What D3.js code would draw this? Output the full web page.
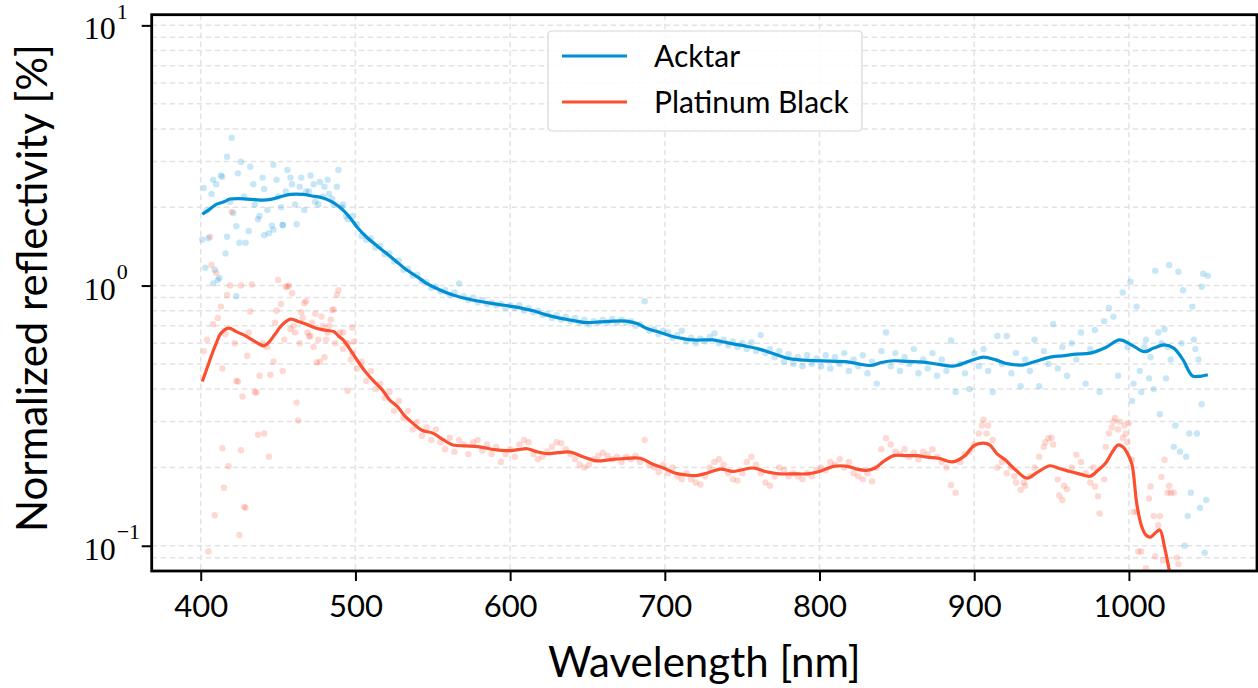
<!DOCTYPE html>
<html><head><meta charset="utf-8">
<script src="https://cdn.jsdelivr.net/npm/d3@7"></script>
<style>body{margin:0;background:#fff}svg{display:block}</style>
</head><body>
<svg id="chart" width="1258" height="688"></svg>
<script>
// ---------- data ----------
const seriesNames = ["Acktar", "Platinum Black"];
const seriesColors = ["#008fd5", "#fc4f30"];
const xTicks = [400, 500, 600, 700, 800, 900, 1000];
const yTicks = [0.1, 1, 10];
const yTickExp = ["−1", "0", "1"];

// smoothed curves (wavelength nm, reflectivity %)
const acktarLineWl = [401,405,410,415,419,425,430,435,440,446,452,458,466,472,479,484,488,492,496,501,507,514,520,527,533,540,546,555,563,572,580,590,602,615,624,632,640,649,658,667,675,682,688,697,705,712,718,725,731,738,744,753,761,770,779,787,796,807,817,825,833,840,848,857,867,877,886,896,906,914,922,932,940,949,957,966,975,985,994,1002,1010,1016,1023,1029,1035,1041,1046,1051];
const acktarLineVal = [1.88,1.95,2.05,2.10,2.15,2.16,2.15,2.14,2.13,2.15,2.20,2.24,2.24,2.21,2.17,2.11,2.04,1.95,1.84,1.68,1.54,1.42,1.33,1.23,1.15,1.08,1.02,0.96,0.92,0.89,0.87,0.85,0.83,0.80,0.77,0.75,0.735,0.72,0.725,0.73,0.73,0.715,0.686,0.66,0.637,0.625,0.618,0.618,0.618,0.607,0.597,0.584,0.57,0.548,0.526,0.518,0.515,0.512,0.51,0.50,0.493,0.506,0.514,0.511,0.508,0.498,0.49,0.51,0.531,0.518,0.50,0.496,0.512,0.531,0.537,0.545,0.55,0.578,0.618,0.59,0.557,0.575,0.592,0.575,0.518,0.45,0.448,0.454];
const platinumLineWl = [401,404,407,410,413,418,423,428,433,438,441,444,448,452,458,463,467,472,477,482,486,489,492,496,501,506,512,517,522,527,532,537,543,550,557,563,571,580,590,598,605,611,617,624,631,639,647,656,664,672,684,692,699,707,714,720,727,736,744,750,757,765,774,783,792,800,809,818,824,830,836,841,848,856,863,870,877,886,894,900,906,910,915,920,927,934,941,949,955,962,969,975,980,985,989,993,996,999,1002,1005,1008,1011,1014,1017,1020,1023,1026,1029,1032];
const platinumLineVal = [0.428,0.48,0.54,0.60,0.655,0.686,0.665,0.645,0.62,0.595,0.587,0.605,0.65,0.70,0.743,0.728,0.715,0.695,0.68,0.672,0.665,0.64,0.619,0.575,0.518,0.47,0.428,0.40,0.364,0.343,0.315,0.296,0.278,0.271,0.255,0.244,0.242,0.24,0.234,0.232,0.234,0.236,0.23,0.226,0.228,0.229,0.22,0.212,0.214,0.216,0.217,0.206,0.199,0.19,0.187,0.186,0.19,0.197,0.193,0.196,0.199,0.193,0.189,0.189,0.189,0.193,0.202,0.202,0.197,0.195,0.199,0.21,0.222,0.222,0.222,0.219,0.217,0.21,0.222,0.243,0.248,0.244,0.225,0.214,0.195,0.182,0.192,0.203,0.198,0.193,0.188,0.185,0.195,0.208,0.228,0.244,0.24,0.227,0.205,0.146,0.12,0.11,0.108,0.112,0.115,0.099,0.081,0.066,0.055];

// measured points: wavelengths start at 402 nm, every 3 nm
const scatterStart = 402, scatterStep = 3;
const acktarPoints = [
2.37,1.52,2.55,1.05,2.62,3.13,3.70,1.69,2.99,1.46,2.86,2.05,1.85,2.35,1.59,2.91,2.20,1.71,2.78,2.45,1.72,2.60,2.30,2.65,2.10,2.50,2.40,2.25,2.05,2.78,
2.05,1.80,1.85,1.72,1.55,1.50,1.52,1.40,1.42,1.32,1.33,1.24,1.25,1.15,1.16,1.09,1.10,1.04,1.03,0.98,0.99,0.95,0.96,0.92,0.94,1.02,0.91,0.88,0.90,0.86,0.88,0.85,0.86,0.84,0.85,0.82,0.84,
0.82,0.84,0.80,0.82,0.79,0.80,0.77,0.78,0.75,0.77,0.74,0.76,0.73,0.75,0.72,0.74,0.71,0.73,0.72,0.74,0.72,0.745,0.72,0.74,0.72,0.73,0.70,0.71,0.87,0.67,0.68,0.65,0.67,
0.66,0.63,0.645,0.67,0.61,0.63,0.60,0.625,0.61,0.635,0.655,0.60,0.62,0.59,0.61,0.58,0.60,0.57,0.605,0.56,0.645,0.55,0.57,0.53,0.56,0.51,0.545,0.50,0.53,0.49,0.54,0.50,0.525,0.49,
0.54,0.48,0.53,0.50,0.55,0.47,0.52,0.49,0.54,0.46,0.51,0.42,0.56,0.66,0.49,0.55,0.47,0.53,0.50,0.57,0.46,0.52,0.48,0.55,0.45,0.52,0.47,0.615,0.39,0.50,0.46,0.40,0.55,
0.49,0.57,0.47,0.39,0.64,0.50,0.64,0.46,0.55,0.41,0.52,0.47,0.62,0.41,0.56,0.50,0.71,0.48,0.58,0.45,0.60,0.52,0.66,0.42,0.57,0.675,0.39,0.73,0.82,0.76,0.45,0.94,0.58,
0.36,0.83,0.39,0.62,0.53,1.14,0.32,0.68,1.20,0.24,1.13,0.96,0.13,0.83,0.27,0.99,0.15
];
const acktarExtraWl = [401,403,404,407,408,409,410,412,413,416,417,419,421,423,424,425,428,431,434,437,440,441,443,446,447,449,452,453,455,458,461,464,467,470,473,476,479,482,485,488,491,494,1001,1003,1007,1010,1013,1016,1019,1021,1024,1025,1027,1030,1033,1034,1036,1037,1039,1040,1042,1043,1045,1046,1047,1048,1049,1051];
const acktarExtraVal = [1.50,1.17,1.95,2.25,1.02,1.15,2.45,1.07,2.65,1.33,1.54,2.10,1.90,0.91,2.70,1.46,2.20,1.62,2.45,1.80,2.60,1.56,1.95,1.70,1.64,2.55,2.00,1.71,2.30,2.60,2.05,2.40,1.95,2.30,2.45,2.05,2.20,2.55,2.15,2.40,2.00,1.85,1.035,0.42,0.47,0.58,0.44,0.40,0.66,0.60,0.44,0.58,0.52,0.29,0.23,0.60,0.10,0.22,0.27,0.16,0.62,0.57,0.52,0.14,0.35,1.11,0.094,1.09];

const platinumPoints = [
0.56,0.095,0.71,0.75,0.48,0.92,1.92,0.43,1.00,0.14,0.795,0.39,0.45,0.27,0.22,0.51,1.05,0.47,0.99,0.935,0.355,0.79,0.87,0.64,0.78,0.51,0.53,0.70,0.81,0.96,
0.66,0.60,0.55,0.48,0.51,0.43,0.47,0.40,0.42,0.37,0.39,0.33,0.36,0.31,0.33,0.28,0.30,0.265,0.285,0.255,0.28,0.25,0.235,0.26,0.23,0.255,0.245,0.225,0.25,0.255,0.232,0.245,0.225,0.24,0.21,0.225,0.235,
0.22,0.245,0.255,0.25,0.225,0.215,0.22,0.23,0.24,0.25,0.248,0.235,0.225,0.215,0.205,0.20,0.205,0.215,0.222,0.228,0.222,0.215,0.22,0.21,0.22,0.215,0.222,0.21,0.255,0.205,0.20,0.192,0.205,
0.19,0.20,0.185,0.18,0.19,0.18,0.175,0.172,0.185,0.20,0.21,0.215,0.205,0.19,0.18,0.178,0.19,0.21,0.22,0.205,0.19,0.175,0.17,0.185,0.20,0.195,0.185,0.19,0.185,0.18,0.19,0.185,0.195,0.20,
0.195,0.21,0.205,0.215,0.20,0.21,0.19,0.185,0.18,0.19,0.177,0.20,0.235,0.259,0.245,0.23,0.225,0.235,0.22,0.228,0.215,0.23,0.225,0.235,0.22,0.21,0.20,0.171,0.16,0.21,0.225,0.23,0.245,
0.27,0.305,0.29,0.255,0.20,0.21,0.19,0.20,0.175,0.164,0.17,0.185,0.20,0.22,0.24,0.259,0.245,0.18,0.15,0.165,0.20,0.224,0.21,0.19,0.175,0.169,0.133,0.18,0.27,0.30,0.28,0.26,0.25,
0.214,0.135,0.095,0.082,0.169,0.091,0.13,0.214,0.17,0.16,0.085
];
const platinumExtraWl = [404,406,407,409,410,413,414,415,416,418,419,422,424,425,426,427,428,430,431,433,436,437,440,443,445,448,449,452,454,455,457,458,460,461,463,464,466,467,469,470,472,473,475,476,478,479,481,482,484,485,487,488,490,492,494,495,497,498,499,905,908,926,932,946,950,955,958,977,980,985,989,991,994,997,998,1000,1003,1006,1013,1016,1019,1021,1022,1025,1027,1031];
const platinumExtraVal = [0.62,1.54,1.20,0.131,1.12,0.83,0.237,0.167,0.65,0.202,1.0,0.60,0.428,0.11,0.233,0.375,0.141,0.537,0.66,1.01,0.388,0.267,0.60,0.58,0.454,0.72,0.80,0.85,0.62,0.99,1.0,0.68,0.70,0.66,0.303,0.60,0.75,0.856,0.66,0.637,0.72,0.58,0.506,0.62,0.76,0.70,0.62,0.66,0.74,0.806,0.60,0.92,0.66,0.57,0.60,0.394,0.52,0.69,0.61,0.29,0.27,0.185,0.175,0.25,0.26,0.156,0.17,0.20,0.155,0.24,0.285,0.31,0.30,0.29,0.27,0.296,0.135,0.095,0.152,0.13,0.12,0.184,0.088,0.16,0.16,0.09];

// ---------- layout ----------
const svg = d3.select("#chart");
const plot = {left: 151.7, right: 1257, top: 14.7, bottom: 571};
const x = d3.scaleLinear().domain([368.3, 1082.8]).range([plot.left, plot.right]);
const y = d3.scaleLog().domain([Math.pow(10, -1.097), Math.pow(10, 1.041)]).range([plot.bottom, plot.top]);
const sansFont = "Lato, 'Open Sans', sans-serif";
const serifFont = "'Liberation Serif', 'DejaVu Serif', serif";

svg.append("defs").append("clipPath").attr("id", "clip")
  .append("rect").attr("x", plot.left).attr("y", plot.top)
  .attr("width", plot.right - plot.left).attr("height", plot.bottom - plot.top);

// grid
const grid = svg.append("g");
const yGridVals = [];
for (let e = -2; e <= 1; e++) for (let m = 1; m <= 9; m++) {
  const v = m * Math.pow(10, e);
  if (v >= y.domain()[0] && v <= y.domain()[1]) yGridVals.push(v);
}
grid.selectAll("line.h").data(yGridVals).join("line")
  .attr("x1", plot.left).attr("x2", plot.right)
  .attr("y1", d => y(d)).attr("y2", d => y(d))
  .attr("stroke", "#e3e3e3").attr("stroke-width", 1.5).attr("stroke-dasharray", "5.5,3.5");
grid.selectAll("line.v").data(xTicks).join("line")
  .attr("x1", d => x(d)).attr("x2", d => x(d))
  .attr("y1", plot.top).attr("y2", plot.bottom)
  .attr("stroke", "#e3e3e3").attr("stroke-width", 1.5).attr("stroke-dasharray", "5.5,3.5");

// data
const dataG = svg.append("g").attr("clip-path", "url(#clip)");
const scatterSets = [
  {main: acktarPoints, exWl: acktarExtraWl, exVal: acktarExtraVal, color: seriesColors[0]},
  {main: platinumPoints, exWl: platinumExtraWl, exVal: platinumExtraVal, color: seriesColors[1]}
];
scatterSets.forEach(s => {
  const pts = s.main.map((v, i) => [scatterStart + i * scatterStep, v])
    .concat(s.exWl.map((w, i) => [w, s.exVal[i]]));
  dataG.append("g").selectAll("circle").data(pts).join("circle")
    .attr("cx", d => x(d[0])).attr("cy", d => y(d[1])).attr("r", 3.2)
    .attr("fill", s.color).attr("fill-opacity", 0.22);
});
const line = d3.line().x(d => x(d[0])).y(d => y(d[1])).curve(d3.curveCatmullRom.alpha(0.5));
[[acktarLineWl, acktarLineVal, seriesColors[0]], [platinumLineWl, platinumLineVal, seriesColors[1]]].forEach(([wl, val, c]) => {
  dataG.append("path").datum(wl.map((w, i) => [w, val[i]]))
    .attr("d", line).attr("fill", "none").attr("stroke", c).attr("stroke-width", 3.2);
});

// axes
const xAxis = d3.axisBottom(x).tickValues(xTicks).tickSize(10).tickPadding(14).tickFormat(d3.format("d"));
const gx = svg.append("g").attr("transform", `translate(0,${plot.bottom})`).call(xAxis);
gx.select(".domain").remove();
gx.selectAll(".tick line").attr("stroke", "#000").attr("stroke-width", 2);
gx.selectAll(".tick text").attr("font-family", sansFont).attr("font-size", 31).attr("fill", "#000");

const yAxis = d3.axisLeft(y).tickValues(yTicks).tickSize(10).tickFormat(() => "");
const gy = svg.append("g").attr("transform", `translate(${plot.left},0)`).call(yAxis);
gy.select(".domain").remove();
gy.selectAll(".tick line").attr("stroke", "#000").attr("stroke-width", 2);
gy.selectAll(".tick").each(function(d, i) {
  const t = d3.select(this).append("text").attr("x", -36).attr("y", 0).attr("dy", "0.42em")
    .attr("text-anchor", "end").attr("font-family", serifFont).attr("font-size", 32).attr("fill", "#000");
  t.append("tspan").text("10");
  d3.select(this).append("text").attr("x", -36 + 1).attr("y", -7)
    .attr("text-anchor", "start").attr("font-family", serifFont).attr("font-size", 22).attr("fill", "#000")
    .text(yTickExp[i]);
});

// frame
svg.append("rect").attr("x", plot.left).attr("y", plot.top)
  .attr("width", plot.right - plot.left).attr("height", plot.bottom - plot.top)
  .attr("fill", "none").attr("stroke", "#000").attr("stroke-width", 2.8);

// axis labels
svg.append("text").attr("x", (plot.left + plot.right) / 2).attr("y", 677)
  .attr("text-anchor", "middle").attr("font-family", sansFont).attr("font-size", 42)
  .attr("fill", "#000").text("Wavelength [nm]");
svg.append("text").attr("transform", "translate(47,288) rotate(-90)")
  .attr("text-anchor", "middle").attr("font-family", sansFont).attr("font-size", 42)
  .attr("fill", "#000").text("Normalized reflectivity [%]");

// legend
const lg = svg.append("g");
lg.append("rect").attr("x", 548).attr("y", 31).attr("width", 314).attr("height", 100).attr("rx", 4)
  .attr("fill", "#fff").attr("fill-opacity", 0.85).attr("stroke", "#d5d5d5").attr("stroke-width", 1.2);
seriesNames.forEach((n, i) => {
  const yy = 56 + i * 46;
  lg.append("line").attr("x1", 562).attr("x2", 627).attr("y1", yy).attr("y2", yy)
    .attr("stroke", seriesColors[i]).attr("stroke-width", 3.2);
  lg.append("text").attr("x", 654).attr("y", yy + 11).attr("font-family", sansFont).attr("font-size", 30)
    .attr("fill", "#000").text(n);
});
</script>
</body></html>
